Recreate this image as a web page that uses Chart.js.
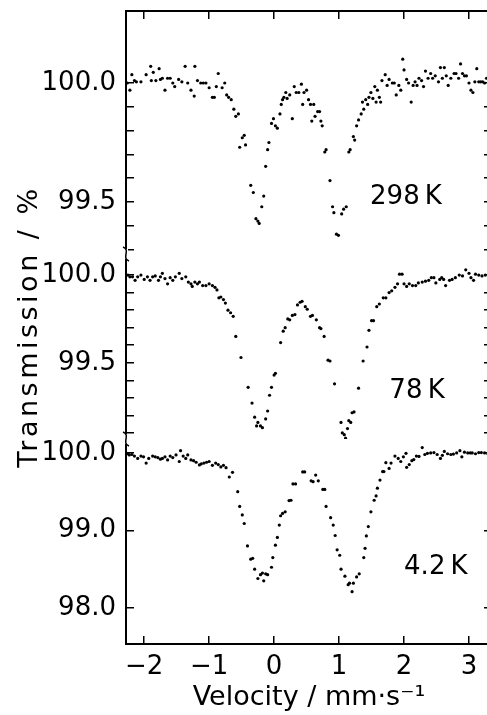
<!DOCTYPE html>
<html>
<head>
<meta charset="utf-8">
<script src="https://cdn.jsdelivr.net/npm/chart.js@4.4.0/dist/chart.umd.min.js"></script>
<style>
  html, body { margin: 0; padding: 0; background: #fff; overflow: hidden; }
</style>
</head>
<body>
<canvas id="myChart" width="500" height="715"></canvas>
<script>
// 298 K spectrum
const v298 = [-2.26, -2.22, -2.19, -2.15, -2.12, -2.05, -1.97, -1.90, -1.89, -1.86, -1.82, -1.77, -1.75, -1.72, -1.68, -1.64, -1.60, -1.56, -1.53, -1.47,
    -1.42, -1.37, -1.33, -1.28, -1.23, -1.22, -1.18, -1.13, -1.09, -1.05, -1.00, -0.95, -0.92, -0.89, -0.86, -0.80, -0.76, -0.73, -0.70, -0.66,
    -0.62, -0.59, -0.55, -0.53, -0.49, -0.46, -0.44, -0.36, -0.32, -0.28, -0.25, -0.23, -0.19, -0.16, -0.13, -0.10, -0.08, -0.04, -0.01, 0.02,
    0.05, 0.09, 0.11, 0.13, 0.15, 0.18, 0.20, 0.24, 0.28, 0.31, 0.34, 0.38, 0.42, 0.44, 0.46, 0.50, 0.53, 0.56, 0.58, 0.61,
    0.63, 0.67, 0.70, 0.72, 0.74, 0.78, 0.80, 0.86, 0.90, 0.92, 0.96, 0.99, 1.04, 1.07, 1.11, 1.15, 1.17, 1.22, 1.24, 1.27,
    1.30, 1.34, 1.36, 1.38, 1.41, 1.44, 1.46, 1.49, 1.52, 1.55, 1.57, 1.59, 1.62, 1.64, 1.66, 1.71, 1.74, 1.77, 1.82, 1.85,
    1.88, 1.92, 1.95, 1.98, 2.00, 2.04, 2.07, 2.11, 2.14, 2.17, 2.20, 2.23, 2.27, 2.30, 2.33, 2.37, 2.41, 2.44, 2.48, 2.53,
    2.56, 2.59, 2.62, 2.65, 2.68, 2.72, 2.77, 2.80, 2.84, 2.87, 2.90, 2.93, 2.96, 3.00, 3.03, 3.06, 3.09, 3.12, 3.15, 3.18,
    3.21, 3.24, 3.27, 3.30];
const t298 = [100.00, 99.97, 100.035, 100.01, 100.005, 100.005, 100.035, 100.07, 100.01, 100.045, 100.01, 100.06, 100.015, 100.02, 99.97, 100.02, 100.02, 100.00, 99.985, 100.015,
    100.005, 100.07, 100.00, 99.97, 99.945, 100.07, 100.01, 100.00, 100.00, 100.00, 99.98, 99.94, 99.94, 99.985, 100.04, 99.98, 100.00, 99.95, 99.94, 99.93,
    99.89, 99.86, 99.87, 99.73, 99.77, 99.78, 99.74, 99.57, 99.54, 99.43, 99.42, 99.41, 99.48, 99.525, 99.65, 99.72, 99.75, 99.83, 99.85, 99.82,
    99.81, 99.87, 99.91, 99.93, 99.94, 99.96, 99.935, 99.95, 99.85, 99.985, 99.96, 99.96, 99.995, 99.91, 99.96, 99.97, 99.93, 99.91, 99.84, 99.91,
    99.86, 99.88, 99.88, 99.84, 99.82, 99.71, 99.72, 99.59, 99.48, 99.455, 99.365, 99.36, 99.45, 99.47, 99.48, 99.71, 99.72, 99.775, 99.76, 99.82,
    99.845, 99.87, 99.92, 99.89, 99.93, 99.91, 99.94, 99.96, 99.935, 99.985, 99.92, 99.97, 99.94, 99.92, 100.01, 100.035, 99.99, 100.015, 100.00, 100.00,
    99.95, 99.99, 99.97, 100.10, 100.055, 100.015, 100.00, 99.92, 99.99, 100.005, 99.99, 100.02, 100.01, 99.985, 100.05, 100.02, 100.04, 100.02, 100.03, 100.005,
    100.065, 100.02, 100.065, 100.03, 99.99, 100.02, 100.04, 100.04, 100.02, 100.08, 100.04, 100.03, 100.03, 100.00, 99.97, 99.96, 100.005, 100.06, 100.005, 100.005,
    100.005, 100.00, 100.02, 100.005];

// 78 K spectrum
const v78 = [-2.25, -2.22, -2.18, -2.14, -2.10, -2.05, -2.00, -1.95, -1.91, -1.87, -1.83, -1.78, -1.75, -1.72, -1.68, -1.64, -1.60, -1.56, -1.52, -1.46,
    -1.42, -1.36, -1.32, -1.28, -1.26, -1.22, -1.18, -1.15, -1.10, -1.05, -1.00, -0.95, -0.91, -0.88, -0.85, -0.82, -0.78, -0.75, -0.71, -0.67,
    -0.63, -0.59, -0.51, -0.40, -0.34, -0.30, -0.27, -0.25, -0.21, -0.18, -0.13, -0.10, -0.07, -0.04, 0.00, 0.02, 0.10, 0.14, 0.17, 0.21,
    0.24, 0.28, 0.32, 0.36, 0.40, 0.43, 0.48, 0.51, 0.56, 0.59, 0.65, 0.70, 0.72, 0.77, 0.83, 0.86, 0.93, 1.03, 1.05, 1.08,
    1.10, 1.13, 1.15, 1.18, 1.20, 1.23, 1.30, 1.37, 1.43, 1.46, 1.50, 1.53, 1.58, 1.62, 1.68, 1.72, 1.77, 1.81, 1.86, 1.90,
    1.93, 1.97, 2.00, 2.04, 2.08, 2.13, 2.18, 2.22, 2.28, 2.33, 2.38, 2.42, 2.46, 2.49, 2.55, 2.58, 2.61, 2.64, 2.70, 2.74,
    2.79, 2.85, 2.90, 2.95, 3.00, 3.03, 3.07, 3.10, 3.15, 3.20, 3.25, 3.30];
const t78 = [100.00, 99.99, 99.99, 99.97, 99.99, 100.00, 99.975, 99.99, 99.97, 99.99, 99.995, 99.97, 99.99, 100.01, 99.98, 99.95, 99.985, 99.97, 99.99, 100.01,
    99.98, 99.99, 99.96, 99.95, 99.935, 99.96, 99.95, 99.96, 99.94, 99.94, 99.95, 99.94, 99.93, 99.915, 99.87, 99.875, 99.86, 99.84, 99.80, 99.785,
    99.765, 99.65, 99.53, 99.36, 99.27, 99.19, 99.14, 99.16, 99.14, 99.13, 99.18, 99.225, 99.315, 99.36, 99.43, 99.44, 99.615, 99.68, 99.70, 99.75,
    99.745, 99.77, 99.775, 99.83, 99.845, 99.85, 99.82, 99.805, 99.765, 99.77, 99.745, 99.70, 99.695, 99.65, 99.515, 99.51, 99.38, 99.16, 99.10, 99.09,
    99.07, 99.125, 99.17, 99.16, 99.215, 99.22, 99.355, 99.51, 99.59, 99.685, 99.74, 99.74, 99.82, 99.835, 99.87, 99.87, 99.90, 99.91, 99.93, 99.95,
    100.005, 100.005, 99.95, 99.935, 99.95, 99.94, 99.94, 99.955, 99.96, 99.965, 99.97, 99.985, 99.985, 99.955, 99.975, 99.985, 99.975, 99.94, 99.97, 99.975,
    99.985, 100.00, 99.995, 100.03, 100.01, 99.985, 99.97, 100.005, 100.00, 99.995, 100.00, 99.99];

// 4.2 K spectrum
const v42 = [-2.25, -2.23, -2.19, -2.15, -2.10, -2.05, -2.01, -1.97, -1.93, -1.87, -1.83, -1.79, -1.75, -1.72, -1.68, -1.64, -1.60, -1.56, -1.51, -1.46,
    -1.44, -1.40, -1.36, -1.33, -1.28, -1.24, -1.20, -1.15, -1.12, -1.08, -1.04, -1.00, -0.95, -0.90, -0.86, -0.82, -0.78, -0.74, -0.69, -0.64,
    -0.56, -0.53, -0.49, -0.46, -0.41, -0.36, -0.33, -0.30, -0.25, -0.21, -0.18, -0.16, -0.13, -0.10, -0.04, -0.02, 0.02, 0.05, 0.08, 0.10,
    0.13, 0.17, 0.23, 0.26, 0.29, 0.33, 0.44, 0.47, 0.57, 0.60, 0.64, 0.68, 0.75, 0.78, 0.80, 0.87, 0.91, 0.94, 0.97, 1.01,
    1.03, 1.09, 1.14, 1.16, 1.20, 1.22, 1.27, 1.31, 1.38, 1.40, 1.42, 1.45, 1.49, 1.54, 1.57, 1.59, 1.63, 1.67, 1.69, 1.72,
    1.77, 1.80, 1.86, 1.91, 1.95, 1.99, 2.03, 2.04, 2.08, 2.12, 2.15, 2.19, 2.23, 2.28, 2.32, 2.36, 2.41, 2.46, 2.51, 2.56,
    2.59, 2.62, 2.67, 2.72, 2.76, 2.81, 2.86, 2.89, 2.93, 2.98, 3.02, 3.05, 3.10, 3.15, 3.19, 3.24, 3.29];
const t42 = [99.99, 99.975, 99.98, 99.96, 99.93, 99.96, 99.95, 99.87, 99.93, 99.96, 99.95, 99.94, 99.92, 99.93, 99.95, 99.91, 99.96, 99.94, 99.975, 99.89,
    100.03, 99.96, 99.93, 99.975, 99.91, 99.90, 99.88, 99.845, 99.86, 99.87, 99.88, 99.89, 99.84, 99.87, 99.85, 99.82, 99.84, 99.81, 99.69, 99.75,
    99.50, 99.31, 99.20, 99.09, 98.80, 98.63, 98.64, 98.50, 98.38, 98.43, 98.45, 98.35, 98.44, 98.43, 98.525, 98.65, 98.81, 98.91, 99.07, 99.19,
    99.22, 99.24, 99.385, 99.39, 99.60, 99.60, 99.755, 99.755, 99.64, 99.63, 99.715, 99.64, 99.53, 99.53, 99.31, 99.165, 99.07, 98.935, 98.75, 98.68,
    98.50, 98.41, 98.30, 98.32, 98.21, 98.32, 98.40, 98.44, 98.65, 98.77, 98.93, 99.05, 99.24, 99.39, 99.445, 99.545, 99.65, 99.76, 99.76, 99.875,
    99.80, 99.87, 99.96, 99.93, 99.89, 99.95, 99.995, 99.815, 99.85, 99.90, 99.915, 99.96, 99.955, 100.07, 99.98, 99.995, 100.00, 100.005, 99.98, 99.93,
    99.97, 100.02, 99.99, 99.98, 99.985, 100.00, 100.03, 99.95, 100.01, 100.00, 100.00, 100.00, 99.99, 100.005, 100.005, 100.00, 99.99];

// ticks
const velocityTicks = [-2, -1, 0, 1, 2, 3];
const ticks298 = [100.0, 99.9, 99.8, 99.7, 99.6, 99.5, 99.4, 99.3];
const labels298 = [100.0, 99.5];
const ticks78 = [100.0, 99.9, 99.8, 99.7, 99.6, 99.5, 99.4, 99.3, 99.2, 99.1];
const labels78 = [100.0, 99.5];
const ticks42 = [100.0, 99.0, 98.0];
const labels42 = [100.0, 99.0, 98.0];

const panelNames = ['298\u2009K', '78\u2009K', '4.2\u2009K'];
const yTitleText = 'Transmission / %';

const FONT = '"DejaVu Sans", sans-serif';
Chart.defaults.font.family = FONT;
Chart.defaults.color = '#000';

function toPoints(vs, ts) {
    return vs.map((v, i) => ({ x: v, y: ts[i] }));
}

function near(a, b) { return Math.abs(a - b) < 1e-6; }

function yAxis(min, max, ticks, labels, weight, stackWeight) {
    return {
        type: 'linear', position: 'left', stack: 'left', stackWeight: stackWeight, weight: weight,
        min: min, max: max,
        afterBuildTicks: (axis) => { axis.ticks = ticks.map(v => ({ value: v })); },
        afterFit: (s) => { s.width = 92; s.paddingTop = 0; s.paddingBottom = 0; },
        border: { display: true, color: '#000', width: 2 },
        grid: { drawOnChartArea: false, drawTicks: true, tickLength: -8, color: '#000', lineWidth: 1.5 },
        ticks: {
            autoSkip: false, padding: 18, font: { size: 26 },
            callback: (v) => labels.some(l => near(l, v)) ? v.toFixed(1) : ''
        }
    };
}

function yAxisRight(min, max, ticks, weight, stackWeight) {
    return {
        type: 'linear', position: 'right', stack: 'right', stackWeight: stackWeight, weight: weight,
        min: min, max: max,
        afterBuildTicks: (axis) => { axis.ticks = ticks.map(v => ({ value: v })); },
        afterFit: (s) => { s.width = 0; s.paddingTop = 0; s.paddingBottom = 0; },
        border: { display: true, color: '#000', width: 2 },
        grid: { drawOnChartArea: false, drawTicks: true, tickLength: -8, color: '#000', lineWidth: 1.5 },
        ticks: { display: false }
    };
}

// y title, panel labels and axis breaks
const panelText = {
    id: 'panelText',
    afterDatasetsDraw(chart) {
        const ctx = chart.ctx;
        const x = chart.scales.x;
        const area = chart.chartArea;
        const spots = [['y298', 2.03, 99.52], ['y78', 2.2, 99.335], ['y42', 2.49, 98.52]];
        ctx.save();
        ctx.fillStyle = '#000';
        ctx.font = '26px ' + FONT;
        ctx.textAlign = 'center';
        ctx.textBaseline = 'middle';
        spots.forEach((s, i) => {
            ctx.fillText(panelNames[i], x.getPixelForValue(s[1]), chart.scales[s[0]].getPixelForValue(s[2]));
        });

        ctx.save();
        ctx.translate(30, (area.top + area.bottom) / 2 - 1);
        ctx.rotate(-Math.PI / 2);
        ctx.font = '27px ' + FONT;
        if ('letterSpacing' in ctx) ctx.letterSpacing = '3.5px';
        ctx.fillText(yTitleText, 0, 0);
        ctx.restore();

        // break marks on the left axis
        ctx.strokeStyle = '#000';
        ctx.lineWidth = 1.5;
        const left = area.left;
        [chart.scales.y298.bottom, chart.scales.y78.bottom].forEach(yb => {
            ctx.fillStyle = '#fff';
            ctx.fillRect(left - 2, yb - 5, 4, 10);
            ctx.beginPath();
            ctx.moveTo(left - 3, yb - 7);
            ctx.bezierCurveTo(left + 5, yb - 4, left - 5, yb + 4, left + 3, yb + 7);
            ctx.stroke();
        });
        ctx.restore();
    }
};

const dot = { showLine: false, pointRadius: 1.6, pointBackgroundColor: '#000', pointBorderWidth: 0, pointHoverRadius: 1.6 };

new Chart(document.getElementById('myChart'), {
    type: 'scatter',
    data: {
        datasets: [
            Object.assign({ label: '298 K', data: toPoints(v298, t298), yAxisID: 'y298' }, dot),
            Object.assign({ label: '78 K', data: toPoints(v78, t78), yAxisID: 'y78' }, dot),
            Object.assign({ label: '4.2 K', data: toPoints(v42, t42), yAxisID: 'y42' }, dot)
        ]
    },
    options: {
        responsive: false,
        animation: false,
        layout: { padding: { left: 34, top: 11, right: 8, bottom: 0 } },
        plugins: { legend: { display: false }, tooltip: { enabled: false } },
        scales: {
            x: {
                type: 'linear', position: 'bottom', min: -2.28, max: 3.354,
                afterBuildTicks: (axis) => { axis.ticks = velocityTicks.map(v => ({ value: v })); },
                afterFit: (s) => { s.height = 71; s.paddingLeft = 0; s.paddingRight = 0; },
                border: { display: true, color: '#000', width: 2 },
                grid: { drawOnChartArea: false, drawTicks: true, tickLength: -8, color: '#000', lineWidth: 1.5 },
                ticks: {
                    padding: 16, font: { size: 26 }, maxRotation: 0,
                    callback: (v) => v < 0 ? '\u2212' + Math.abs(v) : String(v)
                },
                title: { display: true, text: 'Velocity / mm\u00b7s\u207b\u00b9', font: { size: 27 }, padding: { top: 0, bottom: 1 } }
            },
            x2: {
                type: 'linear', position: 'top', min: -2.28, max: 3.354,
                afterBuildTicks: (axis) => { axis.ticks = velocityTicks.map(v => ({ value: v })); },
                afterFit: (s) => { s.height = 0; s.paddingLeft = 0; s.paddingRight = 0; },
                border: { display: true, color: '#000', width: 2 },
                grid: { drawOnChartArea: false, drawTicks: true, tickLength: -8, color: '#000', lineWidth: 1.5 },
                ticks: { display: false }
            },
            y298: yAxis(99.2815, 100.3025, ticks298, labels298, 3, 243),
            y78: yAxis(99.0655, 100.12, ticks78, labels78, 2, 185),
            y42: yAxis(97.535, 100.18, ticks42, labels42, 1, 205),
            yR298: yAxisRight(99.2815, 100.3025, ticks298, 1, 243),
            yR78: yAxisRight(99.0655, 100.12, ticks78, 2, 185),
            yR42: yAxisRight(97.535, 100.18, ticks42, 3, 205)
        }
    },
    plugins: [panelText]
});
</script>
</body>
</html>
